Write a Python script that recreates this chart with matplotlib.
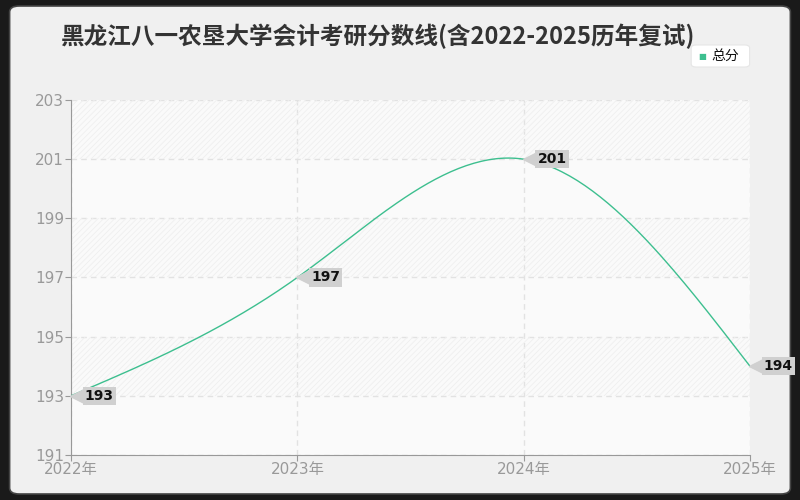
import numpy as np
import matplotlib.pyplot as plt
import matplotlib.transforms as mtrans
from matplotlib.patches import FancyBboxPatch

plt.rcParams['font.family'] = ['DejaVu Sans', 'Noto Sans CJK SC']

# data
years = [2022, 2023, 2024, 2025]
scores = [193, 197, 201, 194]
xlabels = ['2022年', '2023年', '2024年', '2025年']
yticks = [191, 193, 195, 197, 199, 201, 203]
title = '黑龙江八一农垦大学会计考研分数线(含2022-2025历年复试)'
series_name = '总分'
line_color = '#3dbf8f'


def natural_spline(xs, ys, n=60):
    # natural cubic spline through the points (second derivative 0 at both ends)
    xs = np.asarray(xs, float)
    ys = np.asarray(ys, float)
    k = len(xs)
    h = np.diff(xs)
    A = np.zeros((k, k))
    b = np.zeros(k)
    A[0, 0] = A[-1, -1] = 1
    for i in range(1, k - 1):
        A[i, i - 1] = h[i - 1]
        A[i, i] = 2 * (h[i - 1] + h[i])
        A[i, i + 1] = h[i]
        b[i] = 6 * ((ys[i + 1] - ys[i]) / h[i] - (ys[i] - ys[i - 1]) / h[i - 1])
    M = np.linalg.solve(A, b)
    outx, outy = [], []
    for i in range(k - 1):
        t = np.linspace(xs[i], xs[i + 1], n)
        a = xs[i + 1] - t
        c = t - xs[i]
        y = (M[i] * a**3 + M[i + 1] * c**3) / (6 * h[i]) \
            + (ys[i] / h[i] - M[i] * h[i] / 6) * a + (ys[i + 1] / h[i] - M[i + 1] * h[i] / 6) * c
        outx.extend(t)
        outy.extend(y)
    return np.array(outx), np.array(outy)


fig = plt.figure(figsize=(8, 5), dpi=100)
fig.patch.set_facecolor('#1a1a1a')
frame = FancyBboxPatch((0.012, 0.012), 0.976, 0.976, boxstyle='round,pad=0,rounding_size=0.012',
                       transform=fig.transFigure, facecolor='#f0f0f0', edgecolor='#444444', lw=1.2,
                       zorder=-10)
fig.patches.append(frame)

ax = fig.add_axes([0.08875, 0.09, 0.84875, 0.71])
ax.set_zorder(2)
ax.set_facecolor('#fafafa')
plt.rcParams['hatch.linewidth'] = 0.6
for lo in [201, 197, 193]:
    ax.fill_between([2022, 2025], lo, lo + 2, color='none', hatch='//////', edgecolor='#efefef', lw=0)

cx, cy = natural_spline(years, scores)
ax.plot(cx, cy, color=line_color, lw=1, zorder=3)

ax.set_xlim(2022, 2025)
ax.set_ylim(191, 203)
ax.set_xticks(years)
ax.set_xticklabels(xlabels)
ax.set_yticks(yticks)
ax.grid(True, color='#e2e2e2', ls=(0, (4, 3)), lw=1)
ax.set_axisbelow(True)
for s in ['top', 'right']:
    ax.spines[s].set_visible(False)
for s in ['left', 'bottom']:
    ax.spines[s].set_color('#999999')
ax.tick_params(colors='#999999', labelsize=11, length=4, pad=1)

# value tags
for x, y in zip(years, scores):
    tri = mtrans.offset_copy(ax.transData, fig=fig, x=5, y=0, units='points')
    ax.plot(x, y, marker='<', ms=11, color='#d0d0d0', transform=tri, clip_on=False, zorder=4)
    ax.annotate(str(y), (x, y), xytext=(10, 0), textcoords='offset points', ha='left', va='center',
                fontsize=10, fontweight='bold', color='#111111', zorder=5, annotation_clip=False,
                bbox=dict(boxstyle='square,pad=0.15', fc='#d0d0d0', ec='none'))

fig.text(0.4725, 0.928, title, ha='center', va='center', fontsize=17, fontweight='bold', color='#333333',
         family=['Noto Sans CJK SC', 'DejaVu Sans'])

# legend box
leg = FancyBboxPatch((0.864, 0.866), 0.073, 0.044, boxstyle='round,pad=0,rounding_size=0.006',
                     transform=fig.transFigure, facecolor='white', edgecolor='#e6e6e6', lw=0.8)
fig.patches.append(leg)
fig.text(0.878, 0.888, '■', ha='center', va='center', fontsize=6, color=line_color)
fig.text(0.889, 0.888, series_name, ha='left', va='center', fontsize=10, color='#111111',
         family=['Noto Sans CJK SC', 'DejaVu Sans'])

fig.savefig('out.png', dpi=100, facecolor=fig.get_facecolor())
